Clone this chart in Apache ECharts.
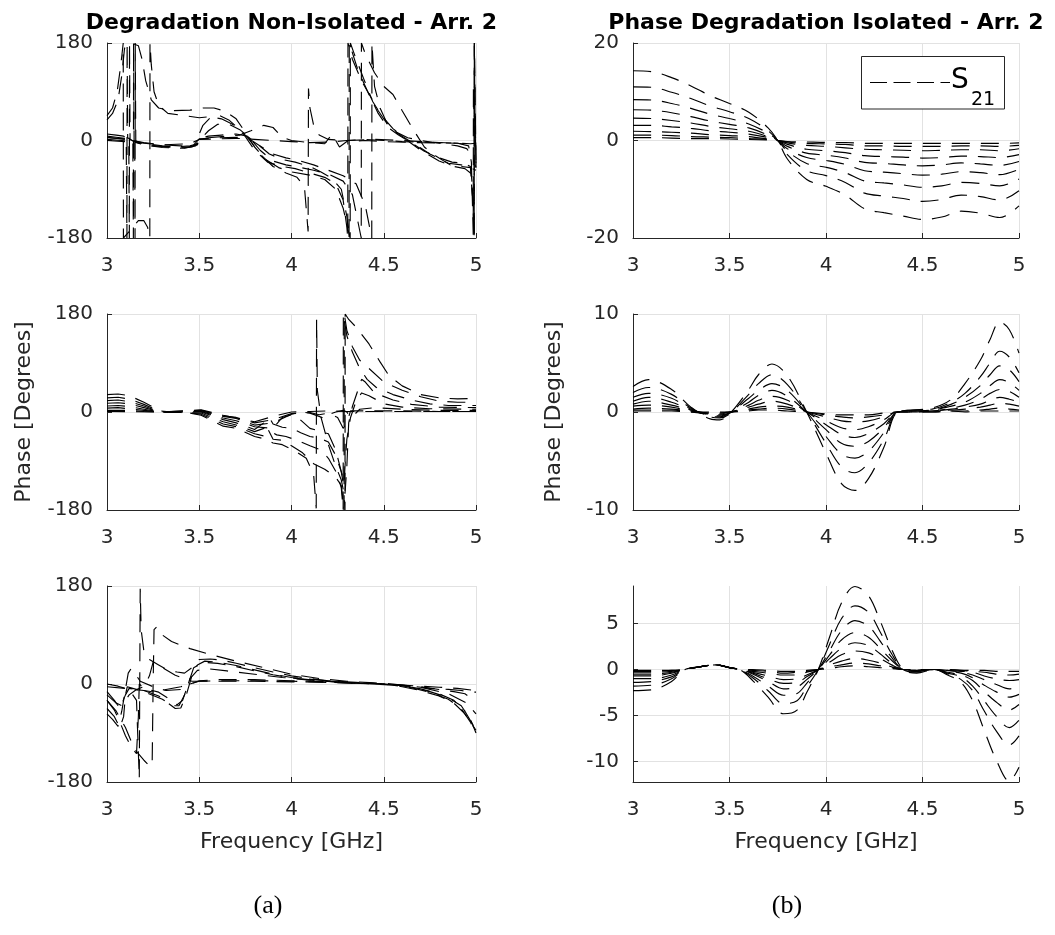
<!DOCTYPE html>
<html>
<head>
<meta charset="utf-8">
<script src="https://cdn.jsdelivr.net/npm/echarts@6/dist/echarts.min.js"></script>
<style>
  html, body { margin: 0; padding: 0; background: #ffffff; }
  #chart { width: 1055px; height: 935px; }
</style>
</head>
<body>
<div id="chart"></div>
<script>
// ---------- Non-isolated array: S21 phase difference vs frequency, [GHz, deg] ----------
const tl1 = [[3.0,38],[3.03,50],[3.06,75],[3.08,120],[3.095,170],[3.11,178],[3.14,179],[3.17,175],[3.19,150],[3.21,110],[3.24,75],[3.28,60],[3.35,55],[3.45,56],[3.52,60],[3.58,60],[3.64,54],[3.7,40],[3.75,15],[3.8,-12],[3.86,-35],[3.93,-50],[4.0,-58],[4.1,-64],[4.18,-72],[4.24,-90],[4.28,-125],[4.31,-170],[4.318,-180],[4.319,180],[4.34,160],[4.39,115],[4.44,72],[4.49,45],[4.55,22],[4.62,2],[4.7,-18],[4.8,-38],[4.88,-48],[4.94,-52],[4.97,-60],[4.983,-110],[4.99,-180],[4.991,180],[4.995,60],[5.0,-40]];
const tl2 = [[3.0,46],[3.03,60],[3.055,90],[3.075,140],[3.088,180],[3.089,-180],[3.11,-172],[3.14,-160],[3.17,-148],[3.2,-148],[3.22,-160],[3.232,-180],[3.233,180],[3.24,140],[3.255,90],[3.28,65],[3.33,50],[3.42,46],[3.5,42],[3.56,44],[3.62,40],[3.68,30],[3.74,12],[3.8,-18],[3.87,-40],[3.95,-48],[4.02,-52],[4.1,-60],[4.18,-68],[4.24,-80],[4.28,-110],[4.3,-160],[4.305,-180],[4.306,180],[4.33,150],[4.38,110],[4.43,80],[4.47,55],[4.52,30],[4.58,12],[4.66,-5],[4.75,-25],[4.85,-42],[4.92,-45],[4.96,-50],[4.98,-52],[5.0,-55]];
const tl3 = [[3.0,12],[3.05,10],[3.09,8],[3.104,5],[3.108,-180],[3.109,180],[3.112,5],[3.15,-3],[3.2,-8],[3.3,-13],[3.4,-14],[3.46,-12],[3.49,-5],[3.5,12],[3.52,28],[3.56,42],[3.61,46],[3.66,38],[3.72,20],[3.77,2],[3.83,-25],[3.9,-48],[3.97,-60],[4.03,-68],[4.07,-85],[4.09,-168],[4.092,96],[4.1,60],[4.12,28],[4.15,10],[4.2,2],[4.3,0],[4.45,2],[4.6,0],[4.75,-3],[4.9,-5],[4.97,-6],[5.0,-5]];
const tl4 = [[3.0,8],[3.05,6],[3.1,4],[3.118,2],[3.121,-180],[3.122,180],[3.125,2],[3.18,-6],[3.25,-10],[3.35,-12],[3.45,-10],[3.49,-6],[3.5,4],[3.55,8],[3.62,10],[3.7,12],[3.76,8],[3.82,-8],[3.88,-25],[3.95,-35],[4.02,-40],[4.1,-48],[4.16,-58],[4.22,-70],[4.27,-90],[4.3,-140],[4.312,-180],[4.313,180],[4.36,130],[4.42,85],[4.47,50],[4.52,25],[4.58,10],[4.64,-2],[4.72,-20],[4.8,-32],[4.87,-40],[4.93,-42],[4.97,-48],[4.985,-100],[4.99,-175],[4.991,175],[4.995,30],[5.0,-50]];
const tl5 = [[3.0,5],[3.1,3],[3.14,0],[3.143,-180],[3.144,180],[3.147,0],[3.2,-5],[3.3,-10],[3.42,-14],[3.48,-10],[3.5,2],[3.55,5],[3.65,8],[3.72,10],[3.78,18],[3.85,28],[3.9,24],[3.95,6],[4.0,0],[4.1,-4],[4.18,-6],[4.22,12],[4.26,-12],[4.3,-2],[4.4,0],[4.5,-2],[4.7,-4],[4.9,-5],[4.97,-8],[5.0,-5]];
const tl6 = [[3.0,2],[3.08,0],[3.15,-2],[3.152,-180],[3.153,180],[3.156,-2],[3.22,-8],[3.32,-12],[3.44,-12],[3.49,-8],[3.5,0],[3.55,18],[3.6,30],[3.66,30],[3.72,20],[3.77,6],[3.83,-18],[3.9,-38],[3.97,-45],[4.05,-50],[4.12,-55],[4.2,-62],[4.28,-75],[4.33,-100],[4.36,-150],[4.378,-180],[4.379,180],[4.4,160],[4.45,125],[4.5,100],[4.55,85],[4.6,55],[4.66,20],[4.72,-12],[4.78,-28],[4.86,-45],[4.92,-48],[4.97,-50],[4.985,-120],[4.99,-180],[4.991,180],[4.995,90],[5.0,-55]];
const tl7 = [[3.0,6],[3.1,2],[3.2,-4],[3.3,-8],[3.4,-10],[3.47,-8],[3.5,3],[3.6,5],[3.7,6],[3.76,5],[3.83,-10],[3.9,-25],[3.97,-32],[4.05,-38],[4.12,-45],[4.2,-55],[4.28,-65],[4.35,-80],[4.4,-120],[4.435,-180],[4.436,180],[4.45,100],[4.48,60],[4.52,30],[4.57,15],[4.63,5],[4.7,0],[4.8,-5],[4.9,-10],[4.95,-15],[4.98,-30],[5.0,-50]];
const tl8 = [[3.0,0],[3.1,-2],[3.2,-5],[3.3,-8],[3.45,-6],[3.5,2],[3.6,3],[3.7,4],[3.8,2],[3.9,0],[4.0,-2],[4.1,-4],[4.2,-3],[4.3,0],[4.4,2],[4.5,0],[4.6,-2],[4.7,-3],[4.8,-4],[4.9,-5],[4.96,-10],[4.975,-40],[4.985,-174],[4.986,103],[4.99,20],[5.0,0]];

const ml1 = [[3.0,32],[3.06,33],[3.12,30],[3.2,18],[3.29,2],[3.35,0],[3.45,-2],[3.51,-6],[3.63,-26],[3.7,-30],[3.8,-45],[3.86,-50],[3.9,-57],[3.95,-60],[4.02,-72],[4.08,-85],[4.12,-115],[4.134,-177],[4.136,170],[4.14,40],[4.16,-10],[4.2,-60],[4.24,-100],[4.27,-125],[4.285,-150],[4.29,-180],[4.291,180],[4.31,170],[4.35,156],[4.42,125],[4.48,92],[4.53,66],[4.6,48],[4.7,32],[4.8,26],[4.9,24],[5.0,25]];
const ml2 = [[3.0,26],[3.06,27],[3.12,24],[3.2,14],[3.29,1],[3.35,0],[3.45,-2],[3.51,-4],[3.63,-22],[3.7,-27],[3.8,-40],[3.85,-44],[3.87,-30],[3.9,-50],[3.95,-52],[4.0,-62],[4.06,-75],[4.12,-95],[4.18,-105],[4.24,-120],[4.27,-135],[4.285,-180],[4.286,180],[4.3,150],[4.33,120],[4.37,95],[4.42,80],[4.5,55],[4.6,40],[4.7,28],[4.8,20],[4.9,18],[5.0,18]];
const ml3 = [[3.0,21],[3.06,22],[3.12,19],[3.2,11],[3.29,0],[3.4,-1],[3.51,-2],[3.63,-18],[3.7,-24],[3.8,-36],[3.85,-30],[3.88,-35],[3.92,-42],[3.97,-45],[4.03,-52],[4.1,-62],[4.16,-70],[4.2,-85],[4.25,-115],[4.27,-140],[4.28,-180],[4.281,180],[4.3,140],[4.33,110],[4.37,80],[4.41,60],[4.46,45],[4.55,32],[4.65,22],[4.75,15],[4.85,12],[5.0,12]];
const ml4 = [[3.0,16],[3.06,17],[3.12,15],[3.2,8],[3.29,0],[3.4,0],[3.51,0],[3.63,-14],[3.7,-20],[3.8,-32],[3.85,-20],[3.88,-10],[3.9,-22],[3.95,-28],[4.0,-30],[4.05,-38],[4.1,-45],[4.15,-48],[4.2,-55],[4.24,-80],[4.27,-110],[4.29,-150],[4.3,-100],[4.31,-20],[4.33,10],[4.36,40],[4.38,60],[4.4,55],[4.45,35],[4.55,22],[4.65,14],[4.8,9],[5.0,8]];
const ml5 = [[3.0,11],[3.06,12],[3.12,10],[3.2,5],[3.29,0],[3.4,0],[3.51,1],[3.63,-11],[3.7,-16],[3.8,-27],[3.9,-30],[3.95,-10],[4.0,-5],[4.05,-15],[4.1,-30],[4.15,-35],[4.2,-40],[4.24,-70],[4.27,-110],[4.285,-130],[4.29,-100],[4.3,-50],[4.32,-10],[4.35,20],[4.38,35],[4.42,30],[4.5,15],[4.6,9],[4.75,6],[5.0,5]];
const ml6 = [[3.0,7],[3.06,8],[3.12,6],[3.2,3],[3.29,0],[3.4,0],[3.51,2],[3.63,-8],[3.7,-12],[3.8,-24],[3.9,-20],[4.0,-4],[4.05,0],[4.1,-2],[4.15,-8],[4.18,-12],[4.2,-5],[4.24,0],[4.28,3],[4.3,0],[4.32,-10],[4.34,-5],[4.37,5],[4.45,8],[4.6,5],[4.8,3],[5.0,3]];
const ml7 = [[3.0,3],[3.12,3],[3.2,1],[3.29,0],[3.51,3],[3.63,-7],[3.7,-10],[3.8,-20],[3.9,-14],[4.0,-3],[4.1,-1],[4.15,-5],[4.2,-2],[4.25,-10],[4.28,-30],[4.3,-20],[4.32,2],[4.4,2],[4.6,2],[4.8,1],[5.0,1]];
const ml8 = [[3.0,1],[3.29,0],[3.51,4],[3.63,-6],[3.8,-18],[3.9,-8],[4.0,0],[4.1,1],[4.2,2],[4.3,1],[4.5,1],[5.0,1]];

const bl1 = [[3.0,-30],[3.05,-50],[3.1,-80],[3.15,-120],[3.2,-140],[3.235,-152],[3.245,-140],[3.25,0],[3.255,100],[3.27,105],[3.3,90],[3.35,78],[3.45,65],[3.55,55],[3.7,42],[3.85,30],[4.0,18],[4.15,10],[4.3,5],[4.45,2],[4.55,0],[4.65,-4],[4.75,-8],[4.85,-10],[4.92,-12],[4.97,-15],[5.0,-15]];
const bl2 = [[3.0,0],[3.06,-4],[3.12,-10],[3.16,-30],[3.175,-174],[3.18,175],[3.185,100],[3.2,60],[3.23,45],[3.28,35],[3.33,25],[3.38,22],[3.42,20],[3.46,30],[3.5,45],[3.56,46],[3.62,44],[3.7,38],[3.8,30],[3.9,22],[4.0,15],[4.1,10],[4.2,6],[4.35,3],[4.5,0],[4.6,-5],[4.7,-12],[4.8,-22],[4.88,-35],[4.94,-55],[5.0,-85]];
const bl3 = [[3.0,-14],[3.04,-30],[3.07,-45],[3.1,-20],[3.12,-8],[3.2,-12],[3.28,-22],[3.33,-35],[3.37,-45],[3.4,-44],[3.43,-20],[3.46,15],[3.49,35],[3.53,42],[3.6,40],[3.7,34],[3.8,26],[3.9,18],[4.0,12],[4.15,7],[4.3,3],[4.45,1],[4.55,-1],[4.65,-6],[4.75,-14],[4.85,-25],[4.92,-40],[4.97,-65],[5.0,-90]];
const bl4 = [[3.0,-30],[3.04,-48],[3.07,-70],[3.1,-95],[3.13,-115],[3.16,-128],[3.17,-60],[3.175,0],[3.2,-8],[3.28,-15],[3.34,-28],[3.38,-38],[3.41,-30],[3.44,0],[3.47,30],[3.52,40],[3.6,38],[3.7,32],[3.8,24],[3.9,17],[4.0,11],[4.15,6],[4.3,2],[4.45,0],[4.55,-2],[4.65,-7],[4.75,-15],[4.85,-28],[4.92,-45],[4.97,-70],[5.0,-92]];
const bl5 = [[3.0,-45],[3.04,-60],[3.07,-80],[3.09,-60],[3.1,-20],[3.11,-5],[3.14,-8],[3.2,-14],[3.3,-28],[3.36,-40],[3.39,-40],[3.42,-20],[3.45,10],[3.49,25],[3.55,28],[3.65,24],[3.8,18],[3.95,12],[4.1,7],[4.3,3],[4.5,0],[4.6,-3],[4.7,-9],[4.8,-18],[4.88,-30],[4.94,-50],[5.0,-85]];
const bl6 = [[3.0,-55],[3.03,-65],[3.06,-78],[3.08,-50],[3.1,-10],[3.115,20],[3.13,28],[3.15,20],[3.18,5],[3.25,-5],[3.32,-12],[3.4,-10],[3.45,0],[3.5,6],[3.6,8],[3.8,8],[4.0,6],[4.2,4],[4.4,1],[4.5,0],[4.6,-2],[4.7,-5],[4.8,-10],[4.88,-14],[4.94,-18],[4.97,-25],[4.99,-20],[5.0,-18]];
const bl7 = [[3.0,-5],[3.1,-8],[3.2,-12],[3.26,-15],[3.32,-10],[3.4,-5],[3.45,0],[3.5,5],[3.6,6],[3.8,6],[4.0,5],[4.2,3],[4.4,1],[4.5,0],[4.6,-2],[4.7,-4],[4.8,-6],[4.9,-8],[5.0,-12]];
const bl8 = [[3.0,-20],[3.05,-35],[3.08,-40],[3.12,-20],[3.16,-10],[3.2,-5],[3.23,15],[3.25,40],[3.3,30],[3.37,16],[3.42,10],[3.46,5],[3.5,5],[3.6,5],[3.8,5],[4.0,4],[4.2,3],[4.5,0],[4.7,-6],[4.85,-18],[4.95,-35],[5.0,-55]];

// ---------- Isolated array: phase degradation [deg] on shared frequency grids ----------
const freqTR = [3.0,3.1,3.2,3.3,3.4,3.5,3.6,3.7,3.75,3.8,3.9,4.0,4.1,4.2,4.3,4.4,4.5,4.6,4.7,4.8,4.9,5.0];
const tr1 = [14.3,14.1,12.9,11.2,9.2,7.6,5.8,2.6,0,-3.8,-8.0,-9.4,-11.2,-14.0,-14.8,-15.5,-16.2,-15.7,-14.5,-14.9,-15.8,-13.4];
const tr2 = [11.0,10.9,9.9,8.6,7.1,5.9,4.5,2.0,0,-2.9,-6.2,-7.2,-8.6,-10.8,-11.4,-11.9,-12.5,-12.1,-11.2,-11.5,-12.2,-10.3];
const tr3 = [8.4,8.3,7.6,6.6,5.4,4.5,3.4,1.5,0,-2.2,-4.7,-5.5,-6.6,-8.3,-8.7,-9.1,-9.6,-9.3,-8.6,-8.8,-9.3,-7.9];
const tr4 = [6.3,6.2,5.7,4.9,4.0,3.3,2.6,1.1,0,-1.7,-3.5,-4.1,-4.9,-6.2,-6.5,-6.8,-7.1,-6.9,-6.4,-6.6,-7.0,-5.9];
const tr5 = [4.6,4.5,4.1,3.6,2.9,2.4,1.9,0.8,0,-1.2,-2.6,-3.0,-3.6,-4.5,-4.7,-5.0,-5.2,-5.0,-4.6,-4.8,-5.1,-4.3];
const tr6 = [3.1,3.1,2.8,2.5,2.0,1.7,1.3,0.6,0,-0.8,-1.8,-2.1,-2.5,-3.1,-3.3,-3.4,-3.6,-3.5,-3.2,-3.3,-3.5,-2.9];
const tr7 = [1.9,1.8,1.7,1.5,1.2,1.0,0.8,0.3,0,-0.5,-1.0,-1.2,-1.5,-1.8,-1.9,-2.0,-2.1,-2.0,-1.9,-1.9,-2.1,-1.7];
const tr8 = [1.1,1.1,1.0,0.8,0.7,0.6,0.4,0.2,0,-0.3,-0.6,-0.7,-0.8,-1.1,-1.1,-1.2,-1.2,-1.2,-1.1,-1.1,-1.2,-1.0];
const tr9 = [0.6,0.6,0.5,0.4,0.4,0.3,0.2,0.1,0,-0.2,-0.3,-0.4,-0.4,-0.6,-0.6,-0.6,-0.6,-0.6,-0.6,-0.6,-0.6,-0.5];

const freqMR = [3.0,3.08,3.2,3.3,3.4,3.45,3.5,3.6,3.65,3.72,3.8,3.9,4.0,4.08,4.15,4.22,4.3,4.37,4.45,4.55,4.65,4.72,4.8,4.85,4.9,4.95,5.0];
const mr1 = [2.6,3.3,2.3,0.5,-0.7,-0.8,-0.2,2.3,3.8,4.9,3.7,0,-4.2,-7.3,-8.0,-6.8,-3.6,0,0.2,0.4,1.3,2.9,5.3,7.4,9.2,8.4,6.0];
const mr2 = [2.0,2.5,1.8,0.4,-0.5,-0.6,-0.2,1.8,2.9,3.8,2.8,0,-3.2,-5.6,-6.2,-5.2,-2.8,0,0.2,0.3,1.0,1.9,3.6,5.0,6.2,5.6,4.0];
const mr3 = [1.5,1.9,1.4,0.3,-0.4,-0.5,-0.1,1.4,2.2,2.9,2.2,0,-2.5,-4.3,-4.7,-4.0,-2.1,0,0.1,0.2,0.8,1.5,2.7,3.8,4.7,4.3,3.1];
const mr4 = [1.1,1.5,1.0,0.2,-0.3,-0.4,-0.1,1.0,1.7,2.2,1.6,0,-1.8,-3.2,-3.5,-3.0,-1.6,0,0.1,0.2,0.6,1.0,1.9,2.7,3.3,3.0,2.2];
const mr5 = [0.8,1.1,0.7,0.2,-0.2,-0.3,-0.1,0.7,1.2,1.6,1.2,0,-1.3,-2.3,-2.6,-2.2,-1.2,0,0.1,0.1,0.4,0.7,1.3,1.9,2.3,2.1,1.5];
const mr6 = [0.6,0.7,0.5,0.1,-0.2,-0.2,0,0.5,0.8,1.1,0.8,0,-0.9,-1.6,-1.8,-1.5,-0.8,0,0,0.1,0.3,0.5,0.8,1.2,1.5,1.3,1.0];
const mr7 = [0.3,0.4,0.3,0.1,-0.1,-0.1,0,0.3,0.5,0.6,0.5,0,-0.5,-0.9,-1.0,-0.9,-0.5,0,0,0.1,0.2,0.3,0.5,0.7,0.9,0.8,0.6];
const mr8 = [0.2,0.2,0.2,0,-0.1,-0.1,0,0.2,0.3,0.4,0.3,0,-0.3,-0.5,-0.6,-0.5,-0.3,0,0,0,0.1,0.1,0.2,0.3,0.4,0.3,0.2];
const mr9 = [0.1,0.1,0.1,0,0,0,0,0.1,0.2,0.2,0.1,0,-0.2,-0.3,-0.3,-0.3,-0.1,0,0,0,0.1,0,0.1,0.1,0.1,0.1,0.1];

const freqBR = [3.0,3.1,3.2,3.27,3.35,3.43,3.5,3.56,3.62,3.7,3.78,3.85,3.9,3.96,4.02,4.08,4.15,4.22,4.28,4.34,4.4,4.47,4.56,4.63,4.7,4.76,4.82,4.88,4.95,5.0];
const br1 = [-2.3,-2.2,-1.3,0,0.3,0.5,0.2,-0.1,-1.2,-3.0,-4.8,-4.4,-2.5,0,3.6,7.2,9.0,8.0,5.3,2.2,0,-0.4,0,-0.6,-1.4,-3.4,-6.6,-9.7,-12.1,-10.6];
const br2 = [-1.8,-1.7,-1.0,0,0.3,0.5,0.2,-0.1,-0.9,-2.3,-3.7,-3.4,-1.9,0,2.8,5.5,6.9,6.2,4.1,1.7,0,-0.3,0,-0.5,-1.1,-2.3,-4.5,-6.6,-8.2,-7.2];
const br3 = [-1.4,-1.3,-0.8,0,0.3,0.5,0.2,-0.1,-0.7,-1.8,-2.8,-2.6,-1.5,0,2.1,4.2,5.3,4.7,3.1,1.3,0,-0.2,0,-0.4,-0.8,-1.8,-3.4,-5.0,-6.3,-5.5];
const br4 = [-1.0,-1.0,-0.6,0,0.3,0.5,0.2,0,-0.5,-1.3,-2.1,-1.9,-1.1,0,1.6,3.2,4.0,3.5,2.3,1.0,0,-0.2,0,-0.3,-0.6,-1.2,-2.4,-3.5,-4.4,-3.8];
const br5 = [-0.7,-0.7,-0.4,0,0.3,0.5,0.2,0,-0.4,-1.0,-1.5,-1.4,-0.8,0,1.2,2.3,2.9,2.6,1.7,0.7,0,-0.1,0,-0.2,-0.4,-0.9,-1.7,-2.4,-3.0,-2.7];
const br6 = [-0.5,-0.5,-0.3,0,0.3,0.5,0.2,0,-0.3,-0.7,-1.1,-1.0,-0.6,0,0.8,1.6,2.0,1.8,1.2,0.5,0,-0.1,0,-0.1,-0.3,-0.6,-1.1,-1.6,-2.1,-1.8];
const br7 = [-0.3,-0.3,-0.2,0,0.3,0.5,0.2,0,-0.2,-0.4,-0.6,-0.6,-0.3,0,0.5,0.9,1.2,1.0,0.7,0.3,0,-0.1,0,-0.1,-0.2,-0.3,-0.7,-1.0,-1.2,-1.1];
const br8 = [-0.2,-0.2,-0.1,0,0.3,0.5,0.2,0,-0.1,-0.2,-0.4,-0.3,-0.2,0,0.3,0.5,0.7,0.6,0.4,0.2,0,0,0,0,-0.1,-0.2,-0.3,-0.5,-0.6,-0.5];
const br9 = [-0.1,-0.1,-0.1,0,0.3,0.5,0.2,0,0,-0.1,-0.2,-0.2,-0.1,0,0.1,0.3,0.4,0.3,0.2,0.1,0,0,0,0,-0.1,-0.1,-0.1,-0.2,-0.2,-0.2];

// ---------- Axis ticks ----------
const freqTicks = [3, 3.5, 4, 4.5, 5];
const phaseWideTicks = [-180, 0, 180];
const topRightTicks = [-20, 0, 20];
const midRightTicks = [-10, 0, 10];
const lowRightTicks = [-10, -5, 0, 5];

// ---------- Text ----------
const titleLeft = 'Degradation Non-Isolated - Arr. 2';
const titleRight = 'Phase Degradation Isolated - Arr. 2';
const xName = 'Frequency [GHz]';
const yName = 'Phase [Degrees]';
const panelTags = ['(a)', '(b)'];

// ---------- Build ----------
const FONT = 'DejaVu Sans';
const INK = '#262626';
const GRIDC = '#e2e2e2';

const grids = [
  { left: 107, top: 43, width: 369, height: 195 },
  { left: 633, top: 43, width: 386, height: 195 },
  { left: 107, top: 314, width: 369, height: 196 },
  { left: 633, top: 314, width: 386, height: 196 },
  { left: 107, top: 586, width: 369, height: 196 },
  { left: 633, top: 586, width: 386, height: 196 }
];

function xAxisFor(i, withName) {
  const ax = {
    gridIndex: i, type: 'value', min: freqTicks[0], max: freqTicks[freqTicks.length - 1],
    interval: freqTicks[1] - freqTicks[0],
    axisLine: { show: true, onZero: false, lineStyle: { color: INK, width: 1 } },
    axisTick: { show: true, inside: true, length: 5, lineStyle: { color: INK, width: 1 } },
    axisLabel: { color: INK, fontSize: 20, fontFamily: FONT, margin: 18 },
    splitLine: { show: true, lineStyle: { color: GRIDC, width: 1 } }
  };
  if (withName) {
    ax.name = xName; ax.nameLocation = 'middle'; ax.nameGap = 49;
    ax.nameTextStyle = { color: INK, fontSize: 22, fontFamily: FONT };
  }
  return ax;
}

function yAxisFor(i, ticks, opts) {
  const ax = {
    gridIndex: i, type: 'value',
    axisLine: { show: true, onZero: false, lineStyle: { color: INK, width: 1 } },
    axisTick: { show: true, inside: true, length: 5, lineStyle: { color: INK, width: 1 } },
    axisLabel: { color: INK, fontSize: 20, fontFamily: FONT, margin: 14 },
    splitLine: { show: true, lineStyle: { color: GRIDC, width: 1 } }
  };
  if (opts.custom) {
    ax.min = opts.min; ax.max = opts.max;
    ax.axisLabel.customValues = ticks;
    ax.axisTick.customValues = ticks;
  } else {
    ax.min = ticks[0]; ax.max = ticks[ticks.length - 1];
    ax.interval = ticks[1] - ticks[0];
  }
  if (opts.name) {
    ax.name = yName; ax.nameLocation = 'middle'; ax.nameGap = opts.nameGap;
    ax.nameTextStyle = { color: INK, fontSize: 22, fontFamily: FONT };
  }
  return ax;
}

const DASH = [18, 11];
function mkLine(data, gi, smooth) {
  return {
    type: 'line', xAxisIndex: gi, yAxisIndex: gi, data: data,
    showSymbol: false, symbol: 'none', smooth: smooth, clip: true, silent: true,
    lineStyle: { color: '#000', width: 1.15, type: DASH }
  };
}
function pair(freq, vals) { return freq.map((f, k) => [f, vals[k]]); }

const series = [];
[tl1, tl2, tl3, tl4, tl5, tl6, tl7, tl8].forEach(d => series.push(mkLine(d, 0, false)));
[tr1, tr2, tr3, tr4, tr5, tr6, tr7, tr8, tr9].forEach(v => series.push(mkLine(pair(freqTR, v), 1, 0.35)));
[ml1, ml2, ml3, ml4, ml5, ml6, ml7, ml8].forEach(d => series.push(mkLine(d, 2, false)));
[mr1, mr2, mr3, mr4, mr5, mr6, mr7, mr8, mr9].forEach(v => series.push(mkLine(pair(freqMR, v), 3, 0.35)));
[bl1, bl2, bl3, bl4, bl5, bl6, bl7, bl8].forEach(d => series.push(mkLine(d, 4, false)));
[br1, br2, br3, br4, br5, br6, br7, br8, br9].forEach(v => series.push(mkLine(pair(freqBR, v), 5, 0.35)));

const graphic = [
  { type: 'text', x: 291.5, y: 23, style: { text: titleLeft, fontFamily: FONT, fontSize: 22, fontWeight: 'bold', fill: '#000', align: 'center', verticalAlign: 'middle' } },
  { type: 'text', x: 826, y: 23, style: { text: titleRight, fontFamily: FONT, fontSize: 22, fontWeight: 'bold', fill: '#000', align: 'center', verticalAlign: 'middle' } },
  { type: 'text', x: 268, y: 906, style: { text: panelTags[0], fontFamily: 'Liberation Serif', fontSize: 26, fill: '#000', align: 'center', verticalAlign: 'middle' } },
  { type: 'text', x: 787, y: 906, style: { text: panelTags[1], fontFamily: 'Liberation Serif', fontSize: 26, fill: '#000', align: 'center', verticalAlign: 'middle' } },
  // legend box for the isolated panel
  { type: 'rect', shape: { x: 861.5, y: 56.5, width: 143, height: 52.5 }, style: { fill: '#fff', stroke: INK, lineWidth: 1 }, z: 100 },
  { type: 'line', shape: { x1: 870, y1: 82.5, x2: 950, y2: 82.5 }, style: { stroke: '#000', lineWidth: 1.15, lineDash: [17, 6.5] }, z: 101 },
  { type: 'text', x: 951, y: 81, style: { text: 'S', fontFamily: FONT, fontSize: 28, fill: '#000', align: 'left', verticalAlign: 'middle' }, z: 101 },
  { type: 'text', x: 971, y: 100, style: { text: '21', fontFamily: FONT, fontSize: 19, fill: '#000', align: 'left', verticalAlign: 'middle' }, z: 101 }
];

const option = {
  animation: false,
  backgroundColor: '#ffffff',
  grid: grids,
  xAxis: [0, 1, 2, 3, 4, 5].map(i => xAxisFor(i, i >= 4)),
  yAxis: [
    yAxisFor(0, phaseWideTicks, {}),
    yAxisFor(1, topRightTicks, {}),
    yAxisFor(2, phaseWideTicks, { name: true, nameGap: 72 }),
    yAxisFor(3, midRightTicks, { name: true, nameGap: 68 }),
    yAxisFor(4, phaseWideTicks, {}),
    yAxisFor(5, lowRightTicks, { custom: true, min: -12.2, max: 9.05 })
  ],
  series: series,
  graphic: graphic
};

const chart = echarts.init(document.getElementById('chart'), null, { renderer: 'canvas' });
chart.setOption(option);
</script>
</body>
</html>
